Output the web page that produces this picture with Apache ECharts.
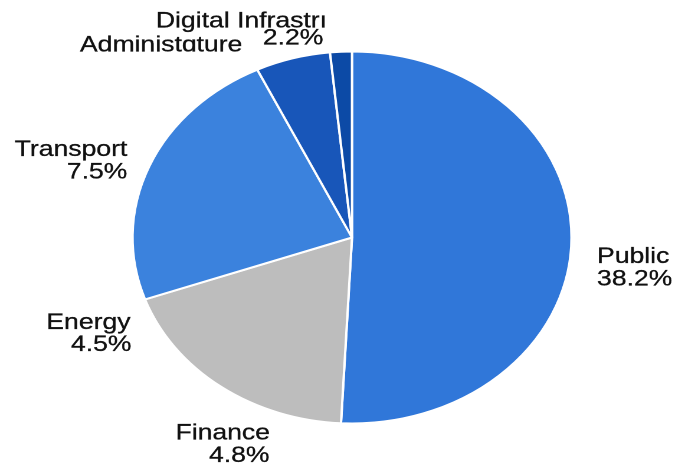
<!DOCTYPE html>
<html>
<head>
<meta charset="utf-8">
<script src="https://cdn.jsdelivr.net/npm/echarts@6/dist/echarts.min.js"></script>
<style>
  html, body { margin: 0; padding: 0; background: #ffffff; overflow: hidden; }
  #chart { position: absolute; left: 0; top: 0; width: 571.2px; height: 468px;
           transform: scaleX(1.18); transform-origin: 0 0; }
</style>
</head>
<body>
<div id="chart"></div>
<script>
// ---- data ----
const categories = ['Public', 'Finance', 'Energy', 'Transport', 'Administ\u0251ture', 'Digital Infrastr\u0131'];
const sliceShare = [50.8, 18.8, 0, 23.3, 5.5, 1.6];      // visible slice sizes
const labelPct   = ['38.2%', '4.8%', '4.5%', '7.5%', '', '2.2%']; // printed label values

// ---- styles / layout ----
const S = 1.18; // horizontal stretch of the original picture
const sliceColors = ['#3077d9', '#bdbdbd', '#bdbdbd', '#3b82dd', '#1856b9', '#0c4aa6'];
// [nameX, nameY, pctX, pctY, align] in page pixels (line centres)
const labelLayout = [
  [597, 257, 597, 279.5, 'left'],
  [270, 433.3, 269.5, 455.9, 'right'],
  [130.5, 323, 131.5, 345, 'right'],
  [127.3, 150, 127.3, 172.3, 'right'],
  [80, 45.5, null, null, 'left'],
  [327, 21.3, 323.3, 38.3, 'right']
];

const pieData = [];
categories.forEach((c, i) => {
  if (sliceShare[i] > 0) {
    pieData.push({ name: c, value: sliceShare[i], itemStyle: { color: sliceColors[i] } });
  }
});

const font = '22.5px "Liberation Sans", Arial, sans-serif';
const graphics = [];
categories.forEach((c, i) => {
  const L = labelLayout[i];
  graphics.push({
    type: 'text', x: L[0] / S, y: L[1], silent: true,
    style: { text: c, font: font, fill: '#111111', stroke: '#111111', lineWidth: 0.3,
             textAlign: L[4], textVerticalAlign: 'middle' }
  });
  if (labelPct[i]) {
    graphics.push({
      type: 'text', x: L[2] / S, y: L[3], silent: true,
      style: { text: labelPct[i], font: font, fill: '#111111', stroke: '#111111', lineWidth: 0.3,
               textAlign: L[4], textVerticalAlign: 'middle' }
    });
  }
});

const chart = echarts.init(document.getElementById('chart'), null, { devicePixelRatio: 2 });
chart.setOption({
  animation: false,
  backgroundColor: '#ffffff',
  series: [{
    type: 'pie',
    center: [352 / S, 237.5],
    radius: 186,
    startAngle: 90,
    clockwise: true,
    label: { show: false },
    labelLine: { show: false },
    emphasis: { disabled: true },
    itemStyle: { borderColor: '#ffffff', borderWidth: 2 },
    data: pieData
  }],
  graphic: graphics
});
</script>
</body>
</html>
